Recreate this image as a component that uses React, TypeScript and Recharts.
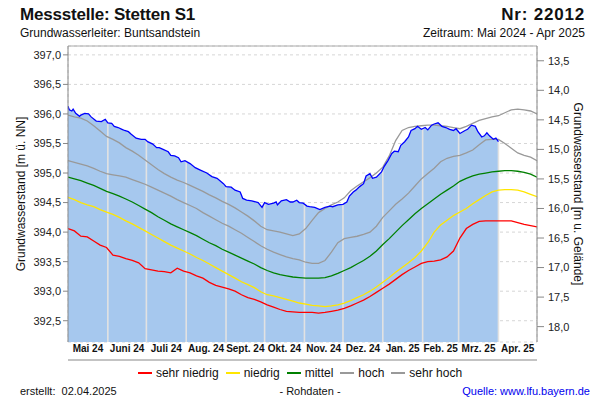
import React from 'react';
import {
  ComposedChart,
  Area,
  Line,
  XAxis,
  YAxis,
  CartesianGrid,
  ReferenceLine,
} from 'recharts';

const FONT = '"Liberation Sans", Arial, Helvetica, sans-serif';

// ---------- x categories (days since 1 May 2024) ----------
const monthStarts = [0, 31, 61, 92, 123, 153, 184, 214, 245, 276, 304, 335, 365];
const monthLabels = [
  'Mai 24', 'Juni 24', 'Juli 24', 'Aug. 24', 'Sept. 24', 'Okt. 24',
  'Nov. 24', 'Dez. 24', 'Jan. 25', 'Feb. 25', 'Mrz. 25', 'Apr. 25',
];

// ---------- axis ticks ----------
const leftTicks = [392.5, 393.0, 393.5, 394.0, 394.5, 395.0, 395.5, 396.0, 396.5, 397.0];
const rightTicks = [13.5, 14.0, 14.5, 15.0, 15.5, 16.0, 16.5, 17.0, 17.5, 18.0];
const leftDomain: [number, number] = [392.14, 397.15];
const groundLevel = 410.4; // m ü. NN of the terrain

// ---------- statistical curves (every 5 days) ----------
const statDays = [
  0, 5, 10, 15, 20, 25, 30, 35, 40, 45,
  50, 55, 60, 65, 70, 75, 80, 85, 90, 95,
  100, 105, 110, 115, 120, 125, 130, 135, 140, 145,
  150, 155, 160, 165, 170, 175, 180, 185, 190, 195,
  200, 205, 210, 215, 220, 225, 230, 235, 240, 245,
  250, 255, 260, 265, 270, 275, 280, 285, 290, 295,
  300, 305, 310, 315, 320, 325, 330, 335, 340, 345,
  350, 355, 360, 365,
];

const sehrHoch = [
  395.98, 395.95, 395.93, 395.88, 395.80, 395.71, 395.62, 395.57, 395.51, 395.43,
  395.37, 395.30, 395.22, 395.14, 395.06, 394.99, 394.93, 394.88, 394.84, 394.79,
  394.74, 394.69, 394.63, 394.58, 394.52, 394.47, 394.41, 394.34, 394.27, 394.19,
  394.10, 394.04, 394.02, 394.00, 393.97, 393.94, 393.97, 394.06, 394.20, 394.33,
  394.40, 394.46, 394.51, 394.58, 394.70, 394.78, 394.85, 394.92, 395.00, 395.10,
  395.29, 395.55, 395.72, 395.77, 395.79, 395.80, 395.81, 395.81, 395.80, 395.79,
  395.77, 395.75, 395.79, 395.84, 395.89, 395.92, 395.95, 395.97, 396.02, 396.07,
  396.08, 396.07, 396.05, 396.00,
];

const hoch = [
  395.21, 395.18, 395.15, 395.12, 395.08, 395.03, 394.99, 394.97, 394.95, 394.93,
  394.89, 394.85, 394.81, 394.76, 394.71, 394.66, 394.61, 394.55, 394.50, 394.45,
  394.40, 394.33, 394.27, 394.21, 394.15, 394.10, 394.04, 393.98, 393.91, 393.84,
  393.77, 393.71, 393.66, 393.62, 393.58, 393.55, 393.53, 393.49, 393.47, 393.47,
  393.52, 393.66, 393.82, 393.89, 393.91, 393.93, 393.96, 394.00, 394.10, 394.25,
  394.36, 394.47, 394.56, 394.66, 394.78, 394.90, 394.99, 395.08, 395.19, 395.25,
  395.28, 395.30, 395.34, 395.39, 395.48, 395.56, 395.57, 395.57, 395.50, 395.42,
  395.34, 395.30, 395.27, 395.21,
];

const mittel = [
  394.93, 394.90, 394.87, 394.83, 394.79, 394.74, 394.69, 394.65, 394.61, 394.56,
  394.51, 394.45, 394.39, 394.33, 394.26, 394.20, 394.14, 394.09, 394.04, 393.99,
  393.94, 393.88, 393.82, 393.77, 393.71, 393.66, 393.61, 393.56, 393.51, 393.46,
  393.40, 393.35, 393.31, 393.28, 393.26, 393.24, 393.23, 393.22, 393.22, 393.22,
  393.23, 393.26, 393.30, 393.35, 393.40, 393.46, 393.52, 393.59, 393.68, 393.79,
  393.89, 394.00, 394.11, 394.21, 394.31, 394.40, 394.48, 394.56, 394.64, 394.71,
  394.78, 394.86, 394.91, 394.95, 394.98, 395.00, 395.02, 395.03, 395.04, 395.04,
  395.03, 395.01, 394.98, 394.93,
];

const niedrig = [
  394.59, 394.55, 394.50, 394.46, 394.43, 394.38, 394.34, 394.30, 394.25, 394.19,
  394.14, 394.08, 394.02, 393.96, 393.90, 393.84, 393.78, 393.73, 393.68, 393.63,
  393.57, 393.52, 393.46, 393.40, 393.34, 393.28, 393.22, 393.16, 393.11, 393.06,
  392.99, 392.94, 392.92, 392.89, 392.86, 392.83, 392.80, 392.78, 392.76, 392.75,
  392.74, 392.75, 392.77, 392.80, 392.84, 392.89, 392.94, 393.00, 393.07, 393.15,
  393.23, 393.32, 393.40, 393.48, 393.57, 393.68, 393.82, 394.00, 394.12, 394.20,
  394.28, 394.34, 394.40, 394.48, 394.55, 394.62, 394.68, 394.71, 394.72, 394.72,
  394.71, 394.68, 394.64, 394.60,
];

const sehrNiedrig = [
  394.06, 394.02, 393.93, 393.92, 393.85, 393.78, 393.74, 393.61, 393.59, 393.55,
  393.52, 393.48, 393.38, 393.36, 393.34, 393.33, 393.31, 393.39, 393.34, 393.31,
  393.26, 393.22, 393.15, 393.10, 393.07, 393.04, 393.00, 392.94, 392.89, 392.86,
  392.82, 392.77, 392.73, 392.69, 392.66, 392.65, 392.64, 392.64, 392.64, 392.63,
  392.64, 392.66, 392.68, 392.71, 392.75, 392.80, 392.85, 392.91, 392.98, 393.05,
  393.12, 393.20, 393.28, 393.35, 393.41, 393.47, 393.50, 393.51, 393.53, 393.58,
  393.68, 393.90, 394.06, 394.13, 394.18, 394.19, 394.19, 394.19, 394.19, 394.19,
  394.16, 394.13, 394.11, 394.09,
];

// ---------- measured groundwater level (Rohdaten) ----------
const measuredDays = [
  0, 1, 3, 4, 6, 9, 10, 13, 16, 18, 22, 26, 29, 31, 34, 36, 39, 42, 44, 47,
  49, 53, 57, 60, 62, 66, 69, 71, 74, 78, 80, 83, 86, 88, 91, 95, 99, 103, 108, 112,
  116, 121, 123, 127, 130, 134, 136, 139, 143, 148, 151, 153, 156, 160, 162, 163, 166, 170, 173, 175,
  178, 180, 183, 186, 188, 192, 196, 200, 204, 206, 210, 214, 217, 219, 222, 224, 227, 230, 232, 235,
  237, 240, 244, 246, 249, 252, 254, 257, 259, 262, 265, 267, 270, 272, 275, 278, 280, 283, 285, 288,
  291, 294, 297, 300, 302, 305, 309, 311, 314, 317, 319, 322, 324, 326, 328, 331, 333, 335,
];
const measuredLevels = [
  396.13, 396.07, 396.05, 396.08, 396.01, 395.96, 395.98, 396.01, 396.00, 395.95,
  395.88, 395.87, 395.91, 395.85, 395.84, 395.79, 395.77, 395.74, 395.72, 395.70,
  395.66, 395.59, 395.57, 395.57, 395.53, 395.49, 395.43, 395.43, 395.40, 395.36,
  395.30, 395.29, 395.26, 395.19, 395.21, 395.16, 395.09, 395.05, 395.00, 394.94,
  394.91, 394.82, 394.77, 394.76, 394.71, 394.68, 394.57, 394.54, 394.53, 394.50,
  394.42, 394.50, 394.47, 394.49, 394.51, 394.46, 394.53, 394.55, 394.51, 394.51,
  394.54, 394.50, 394.49, 394.44, 394.43, 394.42, 394.38, 394.42, 394.44, 394.43,
  394.46, 394.47, 394.51, 394.61, 394.68, 394.71, 394.77, 394.82, 394.95, 394.99,
  394.91, 394.93, 395.02, 395.11, 395.21, 395.33, 395.37, 395.36, 395.47, 395.53,
  395.61, 395.72, 395.75, 395.79, 395.74, 395.77, 395.73, 395.81, 395.83, 395.85,
  395.79, 395.77, 395.74, 395.72, 395.75, 395.67, 395.72, 395.74, 395.81, 395.79,
  395.70, 395.61, 395.63, 395.68, 395.63, 395.57, 395.59, 395.53,
];

// ---------- tables built from the arrays ----------
const statRows = statDays.map((day, i) => ({
  day,
  sehrHoch: sehrHoch[i],
  hoch: hoch[i],
  mittel: mittel[i],
  niedrig: niedrig[i],
  sehrNiedrig: sehrNiedrig[i],
}));
const measuredRows = measuredDays.map((day, i) => ({ day, level: measuredLevels[i] }));

const midMonths = monthLabels.map((_, i) => (monthStarts[i] + monthStarts[i + 1]) / 2);
const rightDomain: [number, number] = [groundLevel - leftDomain[1], groundLevel - leftDomain[0]];

function measuredAt(d: number): number {
  for (let i = 1; i < measuredDays.length; i++) {
    if (d <= measuredDays[i]) {
      const d0 = measuredDays[i - 1];
      const d1 = measuredDays[i];
      const t = (d - d0) / (d1 - d0);
      return measuredLevels[i - 1] + t * (measuredLevels[i] - measuredLevels[i - 1]);
    }
  }
  return measuredLevels[measuredLevels.length - 1];
}
const lastMeasured = measuredDays[measuredDays.length - 1];
const innerMonthLines = monthStarts.filter((d) => d > 0 && d <= lastMeasured);

const fmt = (v: number) => v.toFixed(1).replace('.', ',');

const legendItems = [
  { label: 'sehr niedrig', color: '#FF0000' },
  { label: 'niedrig', color: '#FFE600' },
  { label: 'mittel', color: '#008000' },
  { label: 'hoch', color: '#999999' },
  { label: 'sehr hoch', color: '#999999' },
];

const LeftLabel = (props: any) => {
  const vb = props.viewBox || { x: 0, y: 46, width: 68, height: 296 };
  const cx = vb.x + 21;
  const cy = vb.y + vb.height / 2;
  return (
    <text
      x={cx}
      y={cy}
      transform={`rotate(-90 ${cx} ${cy})`}
      textAnchor="middle"
      dominantBaseline="central"
      fontFamily={FONT}
      fontSize={12}
      fill="#111"
    >
      Grundwasserstand [m ü. NN]
    </text>
  );
};

const RightLabel = (props: any) => {
  const vb = props.viewBox || { x: 537, y: 46, width: 63, height: 296 };
  const cx = vb.x + 41;
  const cy = vb.y + vb.height / 2;
  return (
    <text
      x={cx}
      y={cy}
      transform={`rotate(90 ${cx} ${cy})`}
      textAnchor="middle"
      dominantBaseline="central"
      fontFamily={FONT}
      fontSize={12}
      fill="#111"
    >
      Grundwasserstand [m u. Gelände]
    </text>
  );
};

const MonthTick = (props: any) => {
  const { x, y, payload } = props;
  const idx = midMonths.indexOf(payload?.value);
  if (idx < 0) return <g />;
  return (
    <text
      x={x}
      y={y}
      dy={8}
      textAnchor="middle"
      fontFamily={FONT}
      fontSize={10}
      fontWeight="bold"
      fill="#111"
    >
      {monthLabels[idx]}
    </text>
  );
};

const lineCommon = {
  xAxisId: 'm',
  yAxisId: 'left',
  type: 'linear' as const,
  dot: false,
  activeDot: false,
  isAnimationActive: false,
  strokeWidth: 1.3,
};

export default function App() {
  return (
    <div
      style={{
        position: 'absolute',
        left: 0,
        top: 0,
        width: 600,
        height: 400,
        background: '#fff',
        fontFamily: FONT,
        color: '#111',
      }}
    >
      <div style={{ position: 'absolute', left: 20, top: 5, fontSize: 17, fontWeight: 'bold', lineHeight: '20px', letterSpacing: -0.2 }}>
        Messstelle: Stetten S1
      </div>
      <div style={{ position: 'absolute', right: 15, top: 5, fontSize: 17, fontWeight: 'bold', lineHeight: '20px', letterSpacing: 0.8, textAlign: 'right' }}>
        Nr: 22012
      </div>
      <div style={{ position: 'absolute', left: 20, top: 26, fontSize: 12, lineHeight: '14px' }}>
        Grundwasserleiter: Buntsandstein
      </div>
      <div style={{ position: 'absolute', right: 15, top: 26, fontSize: 12, lineHeight: '14px', textAlign: 'right' }}>
        Zeitraum: Mai 2024 - Apr 2025
      </div>

      <ComposedChart
        width={600}
        height={400}
        data={statRows}
        margin={{ top: 46, right: 0, bottom: 36, left: 0 }}
      >
        <CartesianGrid xAxisId="m" yAxisId="left" stroke="#d6d6d6" strokeDasharray="3 3" />
        <XAxis
          xAxisId="m"
          type="number"
          dataKey="day"
          domain={[0, 365]}
          ticks={monthStarts}
          interval={0}
          tick={false}
          tickSize={4}
          height={4}
          stroke="#888"
          allowDataOverflow
        />
        <XAxis
          xAxisId="l"
          type="number"
          dataKey="day"
          domain={[0, 365]}
          ticks={midMonths}
          interval={0}
          axisLine={false}
          tickLine={false}
          tickSize={0}
          tickMargin={2}
          height={18}
          allowDataOverflow
          tick={<MonthTick />}
        />
        <YAxis
          yAxisId="left"
          type="number"
          domain={leftDomain}
          ticks={leftTicks}
          interval={0}
          allowDataOverflow
          width={68}
          tickSize={5}
          tickMargin={2}
          stroke="#888"
          tickFormatter={fmt}
          tick={{ fill: '#222', fontSize: 11, fontFamily: FONT }}
          label={(p: any) => <LeftLabel {...p} />}
        />
        <YAxis
          yAxisId="right"
          orientation="right"
          type="number"
          reversed
          domain={rightDomain}
          ticks={rightTicks}
          interval={0}
          allowDataOverflow
          width={63}
          tickSize={7}
          tickMargin={4}
          stroke="#888"
          tickFormatter={fmt}
          tick={{ fill: '#222', fontSize: 11, fontFamily: FONT }}
          label={(p: any) => <RightLabel {...p} />}
        />

        <Area
          xAxisId="m"
          yAxisId="left"
          data={measuredRows}
          dataKey="level"
          type="linear"
          fill="#A6C8EE"
          fillOpacity={1}
          stroke="none"
          dot={false}
          activeDot={false}
          isAnimationActive={false}
        />

        {innerMonthLines.map((d) => (
          <ReferenceLine
            key={`ml-${d}`}
            xAxisId="m"
            yAxisId="left"
            segment={[
              { x: d, y: leftDomain[0] },
              { x: d, y: measuredAt(d) },
            ]}
            stroke="#E2E2E2"
            strokeWidth={1.6}
          />
        ))}

        <ReferenceLine xAxisId="m" yAxisId="left" y={leftDomain[1]} stroke="#aaa" />

        <Line {...lineCommon} data={statRows} dataKey="sehrNiedrig" name="sehr niedrig" stroke="#FF0000" />
        <Line {...lineCommon} data={statRows} dataKey="niedrig" name="niedrig" stroke="#FFE600" />
        <Line {...lineCommon} data={statRows} dataKey="mittel" name="mittel" stroke="#008000" />
        <Line {...lineCommon} data={statRows} dataKey="hoch" name="hoch" stroke="#999999" />
        <Line {...lineCommon} data={statRows} dataKey="sehrHoch" name="sehr hoch" stroke="#999999" />
        <Line {...lineCommon} data={measuredRows} dataKey="level" name="Grundwasserstand" stroke="#0000FF" />
        <Line
          xAxisId="l"
          yAxisId="left"
          dataKey="mittel"
          stroke="none"
          strokeWidth={0}
          dot={false}
          activeDot={false}
          legendType="none"
          isAnimationActive={false}
        />
      </ComposedChart>

      <div
        style={{
          position: 'absolute',
          left: 0,
          top: 366,
          width: 600,
          height: 14,
          display: 'flex',
          justifyContent: 'center',
          alignItems: 'center',
          fontSize: 12,
          lineHeight: '14px',
          gap: 7,
        }}
      >
        {legendItems.map((it) => (
          <div key={it.label} style={{ display: 'flex', alignItems: 'center', gap: 4 }}>
            <span style={{ display: 'inline-block', width: 14, height: 1.5, background: it.color }} />
            <span>{it.label}</span>
          </div>
        ))}
      </div>

      <div style={{ position: 'absolute', left: 20, top: 385, fontSize: 11, lineHeight: '13px', whiteSpace: 'pre' }}>
        {'erstellt:  02.04.2025'}
      </div>
      <div style={{ position: 'absolute', left: 210, width: 200, top: 385, fontSize: 11, lineHeight: '13px', textAlign: 'center' }}>
        - Rohdaten -
      </div>
      <div style={{ position: 'absolute', right: 10, top: 385, fontSize: 11, lineHeight: '13px', color: '#0000EE' }}>
        Quelle: www.lfu.bayern.de
      </div>
    </div>
  );
}
